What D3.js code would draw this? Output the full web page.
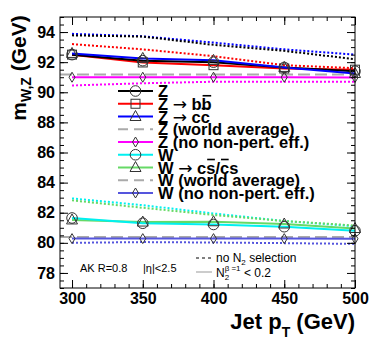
<!DOCTYPE html>
<html><head><meta charset="utf-8">
<script src="https://cdn.jsdelivr.net/npm/d3@7"></script>
<style>body{margin:0;background:#fff;} svg{display:block;} text{font-family:"Liberation Sans",Arial,Helvetica,sans-serif;}</style>
</head><body><svg id="c" width="374" height="344"></svg>
<script>
// ---- data ----
const pT = [300, 350, 400, 450, 500];
const zIncl      = [92.5, 92.1, 92.0, 91.65, 91.4];
const zBB        = [92.5, 91.98, 91.8, 91.58, 91.5];
const zCC        = [92.58, 92.25, 92.12, 91.65, 91.25];
const zNoNP      = [91.0, 91.0, 91.0, 91.0, 90.98];
const zInclNoN2  = [93.78, 93.7, 93.15, 92.75, 92.2];
const zBBNoN2    = [93.2, 92.85, 92.4, 91.8, 91.6];
const zCCNoN2    = [93.88, 93.72, 93.3, 92.85, 92.5];
const zNoNPNoN2  = [90.45, 90.6, 90.7, 90.7, 90.7];
const wIncl      = [81.65, 81.3, 81.22, 81.07, 80.8];
const wCS        = [81.52, 81.38, 81.4, 81.25, 80.95];
const wNoNP      = [80.28, 80.28, 80.28, 80.28, 80.27];
const wInclNoN2  = [82.95, 82.5, 81.95, 81.45, 81.1];
const wCSNoN2    = [82.82, 82.33, 81.85, 81.45, 81.15];
const wNoNPNoN2  = [80.0, 80.05, 80.02, 79.98, 79.93];
const worldAvgZ = 91.1876;
const worldAvgW = 80.385;
const xTicks = [300, 350, 400, 450, 500];
const yTicks = [78, 80, 82, 84, 86, 88, 90, 92, 94];

// ---- layout ----
const svg = d3.select("#c");
const X0 = 60, X1 = 355, Y0 = 17, Y1 = 288;
const x = d3.scaleLinear().domain([291.5, 500]).range([X0, X1]);
const y = d3.scaleLinear().domain([77, 95]).range([Y1, Y0]);

const plot = svg.append("g");
svg.append("clipPath").attr("id", "clp").append("rect")
  .attr("x", X0).attr("y", Y0).attr("width", X1 - X0).attr("height", Y1 - Y0);
const lines = plot.append("g").attr("clip-path", "url(#clp)");

const line = vals => d3.line().x((d, i) => x(pT[i])).y(d => y(d))(vals);

const COL = {zIncl:"#000000", zBB:"#ff0000", zCC:"#0000ff", world:"#aaaaaa", zNoNP:"#ff00ff",
             wIncl:"#00f0f0", wCS:"#66d966", wNoNP:"#5555dd"};

// dotted (no N2 selection)
[[zCCNoN2, COL.zCC],[zInclNoN2, COL.zIncl],[zBBNoN2, COL.zBB],[zNoNPNoN2, COL.zNoNP],
 [wInclNoN2, COL.wIncl],[wCSNoN2, COL.wCS],[wNoNPNoN2, COL.wNoNP]].forEach(([v,c]) => {
  lines.append("path").attr("d", line(v)).attr("fill","none").attr("stroke", c)
    .attr("stroke-width", 2).attr("stroke-dasharray", "2,2");
});
// world averages
[worldAvgZ, worldAvgW].forEach(v => {
  lines.append("line").attr("x1", X0).attr("x2", X1).attr("y1", y(v)).attr("y2", y(v))
    .attr("stroke", COL.world).attr("stroke-width", 2).attr("stroke-dasharray", "12,5");
});
// solid
[[zNoNP, COL.zNoNP],[zBB, COL.zBB],[zIncl, COL.zIncl],[zCC, COL.zCC],
 [wNoNP, COL.wNoNP],[wCS, COL.wCS],[wIncl, COL.wIncl]].forEach(([v,c]) => {
  lines.append("path").attr("d", line(v)).attr("fill","none").attr("stroke", c).attr("stroke-width", 2);
});

// markers
function marker(g, type, cx, cy) {
  const st = {fill:"none", stroke:"#333", "stroke-width":1};
  let m;
  if (type === "circle") m = g.append("circle").attr("cx", cx).attr("cy", cy).attr("r", 5.3);
  else if (type === "square") m = g.append("rect").attr("x", cx-4.5).attr("y", cy-4.5).attr("width", 9).attr("height", 9);
  else if (type === "triangle") m = g.append("path").attr("d", `M${cx},${cy-6}L${cx+5.5},${cy+4}L${cx-5.5},${cy+4}Z`);
  else if (type === "diamond") m = g.append("path").attr("d", `M${cx},${cy-5}L${cx+3},${cy}L${cx},${cy+5}L${cx-3},${cy}Z`);
  Object.entries(st).forEach(([k,v]) => m.attr(k, v));
}
const mk = plot.append("g");
[[zIncl,"circle"],[zBB,"square"],[zCC,"triangle"],[zNoNP,"diamond"],
 [wIncl,"circle"],[wCS,"triangle"],[wNoNP,"diamond"]].forEach(([v,t]) => {
  v.forEach((d,i) => marker(mk, t, x(pT[i]), y(d)));
});

// ---- axes ----
const axStyle = g => { g.select(".domain").remove(); g.selectAll("line").attr("stroke","#000"); };
const yMinor = d3.range(77, 95.01, 0.5);
const xMinor = d3.range(300, 500.01, 10);
svg.append("g").attr("transform", `translate(${X0},0)`)
  .call(d3.axisLeft(y).tickValues(yMinor).tickSize(-4).tickFormat("")).call(axStyle);
svg.append("g").attr("transform", `translate(${X1},0)`)
  .call(d3.axisRight(y).tickValues(yMinor).tickSize(-4).tickFormat("")).call(axStyle);
svg.append("g").attr("transform", `translate(0,${Y1})`)
  .call(d3.axisBottom(x).tickValues(xMinor).tickSize(-4).tickFormat("")).call(axStyle);
svg.append("g").attr("transform", `translate(0,${Y0})`)
  .call(d3.axisTop(x).tickValues(xMinor).tickSize(-4).tickFormat("")).call(axStyle);

const yl = svg.append("g").attr("transform", `translate(${X0},0)`)
  .call(d3.axisLeft(y).tickValues(yTicks).tickSize(-8).tickPadding(5).tickFormat(d3.format("d"))).call(axStyle);
yl.selectAll("text").attr("font-size", 16).attr("font-weight","bold").attr("fill","#000")
  .attr("font-family",'"Liberation Sans",Arial,sans-serif');
svg.append("g").attr("transform", `translate(${X1},0)`)
  .call(d3.axisRight(y).tickValues(yTicks).tickSize(-8).tickFormat("")).call(axStyle);
const xl = svg.append("g").attr("transform", `translate(0,${Y1})`)
  .call(d3.axisBottom(x).tickValues(xTicks).tickSize(-8).tickPadding(5).tickFormat(d3.format("d"))).call(axStyle);
xl.selectAll("text").attr("font-size", 16).attr("font-weight","bold").attr("fill","#000")
  .attr("font-family",'"Liberation Sans",Arial,sans-serif');
svg.append("g").attr("transform", `translate(0,${Y0})`)
  .call(d3.axisTop(x).tickValues(xTicks).tickSize(-8).tickFormat("")).call(axStyle);

svg.append("rect").attr("x", X0).attr("y", Y0).attr("width", X1-X0).attr("height", Y1-Y0)
  .attr("fill","none").attr("stroke","#000").attr("stroke-width",1);

// ---- titles ----
const yt = svg.append("text").attr("transform", "translate(26,68) rotate(-90)")
  .attr("text-anchor","middle").attr("font-weight","bold").attr("font-size",21);
yt.append("tspan").text("m");
yt.append("tspan").attr("font-size",14).attr("dy",5).text("W,Z");
yt.append("tspan").attr("dy",-5).text(" (GeV)");

const xt = svg.append("text").attr("x", 355).attr("y", 329)
  .attr("text-anchor","end").attr("font-weight","bold").attr("font-size",22);
xt.append("tspan").text("Jet p");
xt.append("tspan").attr("font-size",14).attr("dy",8).text("T");
xt.append("tspan").attr("dy",-8).text(" (GeV)");

// ---- legend ----
const ARROW = {arrow:true};
const legendLabels = [
  ["Z"], ["Z ", ARROW, " b", {o:"b"}], ["Z ", ARROW, " c", {o:"c"}], ["Z (world average)"], ["Z (no non-pert. eff.)"],
  ["W"], ["W ", ARROW, " c", {o:"s"}, "/", {o:"c"}, "s"], ["W (world average)"], ["W (no non-pert. eff.)"]
];
const legendStyle = [
  [COL.zIncl,"circle",false],[COL.zBB,"square",false],[COL.zCC,"triangle",false],[COL.world,null,true],
  [COL.zNoNP,"diamond",false],[COL.wIncl,"circle",false],[COL.wCS,"triangle",false],[COL.world,null,true],
  [COL.wNoNP,"diamond",false]
];
const lg = svg.append("g");
const FS = 16.5;
legendLabels.forEach((parts, i) => {
  const ry = 91 + i * 12.75;
  const base = ry + 6;
  const [c, m, dashed] = legendStyle[i];
  lg.append("line").attr("x1",118).attr("x2",153).attr("y1",ry).attr("y2",ry)
    .attr("stroke",c).attr("stroke-width",2).attr("stroke-dasharray", dashed ? "10,6" : null);
  if (m) marker(lg, m, 135.5, ry);
  const t = lg.append("text").attr("x",158).attr("y",base).attr("font-weight","bold").attr("font-size",FS);
  let idx = 0;
  const overs = [];
  parts.forEach(p => {
    if (typeof p === "string") { t.append("tspan").text(p); idx += p.length; }
    else if (p.arrow) {
      t.append("tspan").attr("font-family","'DejaVu Sans',sans-serif").attr("font-weight","normal")
        .attr("font-size",17).text("\u2192"); idx += 1;
    } else { t.append("tspan").text(p.o); overs.push(idx); idx += 1; }
  });
  overs.forEach(ci => {
    const e = t.node().getExtentOfChar(ci);
    lg.append("line").attr("x1", e.x + 1).attr("x2", e.x + e.width - 0.5)
      .attr("y1", base - 14).attr("y2", base - 14).attr("stroke","#000").attr("stroke-width",1.6);
  });
});

// ---- annotations ----
svg.append("text").attr("x",80).attr("y",272).attr("font-size",11).text("AK R=0.8");
svg.append("text").attr("x",143).attr("y",272).attr("font-size",11).text("|\u03b7|<2.5");

svg.append("line").attr("x1",196).attr("x2",212).attr("y1",258).attr("y2",258)
  .attr("stroke","#000").attr("stroke-width",1).attr("stroke-dasharray","3,3");
const n1 = svg.append("text").attr("x",216).attr("y",262).attr("font-size",12);
n1.append("tspan").text("no N");
n1.append("tspan").attr("font-size",8).attr("dy",3).text("2");
n1.append("tspan").attr("dy",-3).text(" selection");

svg.append("line").attr("x1",196).attr("x2",212).attr("y1",272).attr("y2",272)
  .attr("stroke","#999").attr("stroke-width",1);
const n2 = svg.append("text").attr("x",216).attr("y",277).attr("font-size",12);
n2.append("tspan").text("N");
n2.append("tspan").attr("font-size",8).attr("dy",3).text("2");
n2.append("tspan").attr("font-size",8).attr("dx",-4.5).attr("dy",-9).text("\u03b2 =1");
n2.append("tspan").attr("dy",6).text(" < 0.2");
</script></body></html>
